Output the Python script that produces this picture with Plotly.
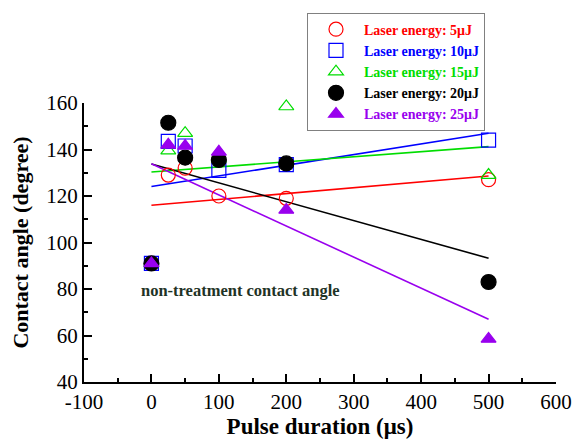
import numpy as np
import plotly.graph_objects as go

# Data
pulse = [0, 25, 50, 100, 200, 500]
e5 = [91, 129, 132, 120, 119, 127]
e10 = [91, 143.5, 141.5, 131, 133.5, 144]
e15 = [91, 139.5, 147, 136, 158.5, 129]
e20 = [91, 151.5, 136.5, 135.5, 134, 83]
e25 = [91, 142, 141.5, 139, 114, 58.5]
names = ["Laser energy: 5μJ", "Laser energy: 10μJ", "Laser energy: 15μJ",
         "Laser energy: 20μJ", "Laser energy: 25μJ"]
series = [e5, e10, e15, e20, e25]

x_ticks = [-100, 0, 100, 200, 300, 400, 500, 600]
x_labels = ["-100", "0", "100", "200", "300", "400", "500", "600"]
y_ticks = [40, 60, 80, 100, 120, 140, 160]

colors = ["#ff0000", "#0000ff", "#00dd00", "#000000", "#9900ee"]
symbols = ["circle-open", "square-open", "triangle-up-open", "circle", "triangle-up"]
sizes = [14, 14, 13, 15, 13]

fig = go.Figure()

# fit lines
for ys, c in zip(series, colors):
    k, b = np.polyfit(pulse, ys, 1)
    xl = [min(pulse), max(pulse)]
    fig.add_trace(go.Scatter(x=xl, y=[k * v + b for v in xl], mode="lines",
                             line=dict(color=c, width=1.6), showlegend=False,
                             hoverinfo="skip"))

for ys, c, s, sz, n in zip(series, colors, symbols, sizes, names):
    fig.add_trace(go.Scatter(
        x=pulse, y=ys, mode="markers", cliponaxis=False,
        name=f"<span style='color:{c}'><b>{n}</b></span>",
        marker=dict(symbol=s, size=sz, color=c, line=dict(color=c, width=1.2)),
    ))

fig.add_annotation(x=132, y=79.5, text="<b>non-treatment contact angle</b>",
                   showarrow=False,
                   font=dict(family="Liberation Serif", size=16.5, color="#1f3326"))

axis_common = dict(
    showline=True, linecolor="black", linewidth=2, mirror=False,
    ticks="inside", ticklen=8, tickwidth=2, tickcolor="black",
    showgrid=False, zeroline=False, automargin=False, ticklabeloverflow="allow",
    tickfont=dict(family="Liberation Serif", size=21, color="black"),
)

fig.update_xaxes(range=[-100, 600], tickmode="array", tickvals=x_ticks, ticktext=x_labels,
                 minor=dict(dtick=50, tick0=0, ticks="inside", ticklen=4, tickwidth=2, tickcolor="black"),
                 title=dict(text="<b>Pulse duration (μs)</b>", standoff=2,
                            font=dict(family="Liberation Serif", size=23, color="black")),
                 **axis_common)
fig.update_yaxes(range=[40, 160], tickmode="array", tickvals=y_ticks,
                 minor=dict(dtick=10, tick0=40, ticks="inside", ticklen=4, tickwidth=2, tickcolor="black"),
                 title=dict(text="<b>Contact angle (degree)</b>", standoff=12,
                            font=dict(family="Liberation Serif", size=22, color="black")),
                 **axis_common)

fig.update_layout(
    width=574, height=444,
    margin=dict(l=84, r=18, t=98, b=62),
    plot_bgcolor="white", paper_bgcolor="white",
    legend=dict(x=(307 - 84) / 472, y=(382 - 6) / 284, xanchor="left", yanchor="top",
                bordercolor="#808080", borderwidth=1, bgcolor="white",
                itemwidth=46,
                font=dict(family="Liberation Serif", size=14, color="black")),
)

fig.write_html("out.html", config={"displayModeBar": False},
               post_script="document.body.style.margin='0px';document.body.style.overflow='hidden';")
